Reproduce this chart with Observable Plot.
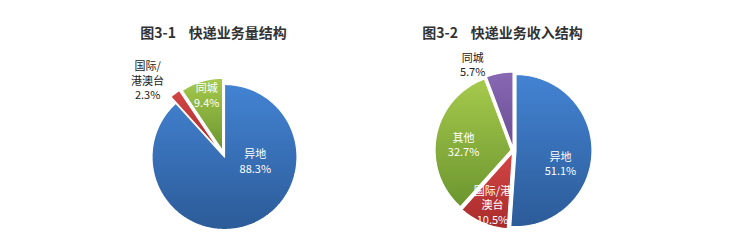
<!DOCTYPE html>
<html><head><meta charset="utf-8">
<script src="https://cdn.jsdelivr.net/npm/d3@7"></script>
<script src="https://cdn.jsdelivr.net/npm/@observablehq/plot@0.6"></script>
<style>body{margin:0;background:#fff}</style>
</head><body><div id="chart"></div>
<script>
// ---- data ----
const titles = ["图3-1    快递业务量结构", "图3-2    快递业务收入结构"];
const cats1 = ["异地", "国际/港澳台", "同城"];
const vals1 = [88.3, 2.3, 9.4];
const labels1 = ["异地\n88.3%", "国际/\n港澳台\n2.3%", "同城\n9.4%"];
const colors1 = ["blue", "red", "green"];
const cats2 = ["异地", "国际/港澳台", "其他", "同城"];
const vals2 = [51.1, 10.5, 32.7, 5.7];
const labels2 = ["异地\n51.1%", "国际/港\n澳台\n10.5%", "其他\n32.7%", "同城\n5.7%"];
const colors2 = ["blue", "red", "green", "purple"];

// ---- layout (pixel units) ----
const W = 730, H = 250;
const panels = [
  {cats: cats1, vals: vals1, labels: labels1, colors: colors1, cx: 224, cy: 156.5, r: 72.5,
   explode: [0, 8, 6.5], labelAng: [99, 314.6, 343.8], labelRad: [0.43, 1.49, 0.88],
   labelGap: [15, 14.5, 15],
   labelFill: ["white", "#222", "white"], titleX: 213, titleY: 33},
  {cats: cats2, vals: vals2, labels: labels2, colors: colors2, cx: 513, cy: 150, r: 76,
   explode: [2.5, 2.5, 2.5, 2.5], labelAng: [106.6, 200.9, 275.7, 334.3], labelRad: [0.645, 0.775, 0.66, 1.24],
   labelGap: [14.5, 14.5, 14.5, 14.5],
   labelFill: ["white", "white", "white", "#222"], titleX: 502, titleY: 33}
];

const rad = d => d * Math.PI / 180;
const sliceRows = [], labelRows = [], titleRows = [];
panels.forEach((p, pi) => {
  const total = d3.sum(p.vals);
  let acc = 0;
  p.vals.forEach((v, i) => {
    const a0 = acc / total * 360, a1 = (acc + v) / total * 360;
    acc += v;
    const mid = rad((a0 + a1) / 2);
    const ox = p.cx + p.explode[i] * Math.sin(mid), oy = p.cy - p.explode[i] * Math.cos(mid);
    const key = `p${pi}s${i}`;
    const fill = `url(#g-${p.colors[i]})`;
    sliceRows.push({key, fill, x: ox, y: oy});
    const steps = Math.max(4, Math.ceil(a1 - a0));
    for (let k = 0; k <= steps; k++) {
      const a = rad(a0 + (a1 - a0) * k / steps);
      sliceRows.push({key, fill, x: ox + p.r * Math.sin(a), y: oy - p.r * Math.cos(a)});
    }
    sliceRows.push({key, fill, x: ox, y: oy});
    const la = rad(p.labelAng[i]);
    const lx = p.cx + p.labelRad[i] * p.r * Math.sin(la), ly = p.cy - p.labelRad[i] * p.r * Math.cos(la);
    const lines = p.labels[i].split("\n");
    lines.forEach((t, j) => {
      labelRows.push({text: t, fill: p.labelFill[i], x: lx, y: ly + (j - (lines.length - 1) / 2) * p.labelGap[i]});
    });
  });
  titleRows.push({text: titles[pi], x: p.titleX, y: p.titleY});
});

const chart = Plot.plot({
  width: W, height: H, margin: 0,
  x: {domain: [0, W], range: [0, W], axis: null},
  y: {domain: [0, H], range: [0, H], axis: null},
  color: {type: "identity"},
  style: {fontFamily: "'Noto Sans CJK SC', 'Noto Sans', sans-serif", background: "white"},
  marks: [
    Plot.line(sliceRows, {x: "x", y: "y", z: "key", fill: "fill", stroke: "white", strokeWidth: 1.2, curve: "linear", strokeLinejoin: "miter"}),
    Plot.text(labelRows, {x: "x", y: "y", text: "text", fill: "fill", fontSize: 11, textAnchor: "middle"}),
    Plot.text(titleRows, {x: "x", y: "y", text: "text", fill: "#333", fontSize: 14, fontWeight: "bold", textAnchor: "middle"})
  ]
});

const grads = {
  blue: ["#4383d3", "#2c5b98"],
  red: ["#d44646", "#a82a2a"],
  green: ["#a6ca4c", "#6b952f"],
  purple: ["#8868b2", "#6a4d96"]
};
const ns = "http://www.w3.org/2000/svg";
const defs = document.createElementNS(ns, "defs");
for (const [name, [c0, c1]] of Object.entries(grads)) {
  const g = document.createElementNS(ns, "linearGradient");
  g.setAttribute("id", "g-" + name);
  g.setAttribute("x1", "0"); g.setAttribute("y1", "0");
  g.setAttribute("x2", "0"); g.setAttribute("y2", "1");
  [[0, c0], [1, c1]].forEach(([o, c]) => {
    const s = document.createElementNS(ns, "stop");
    s.setAttribute("offset", o); s.setAttribute("stop-color", c);
    g.appendChild(s);
  });
  defs.appendChild(g);
}
chart.insertBefore(defs, chart.firstChild);
document.getElementById("chart").appendChild(chart);
</script>
</body></html>
